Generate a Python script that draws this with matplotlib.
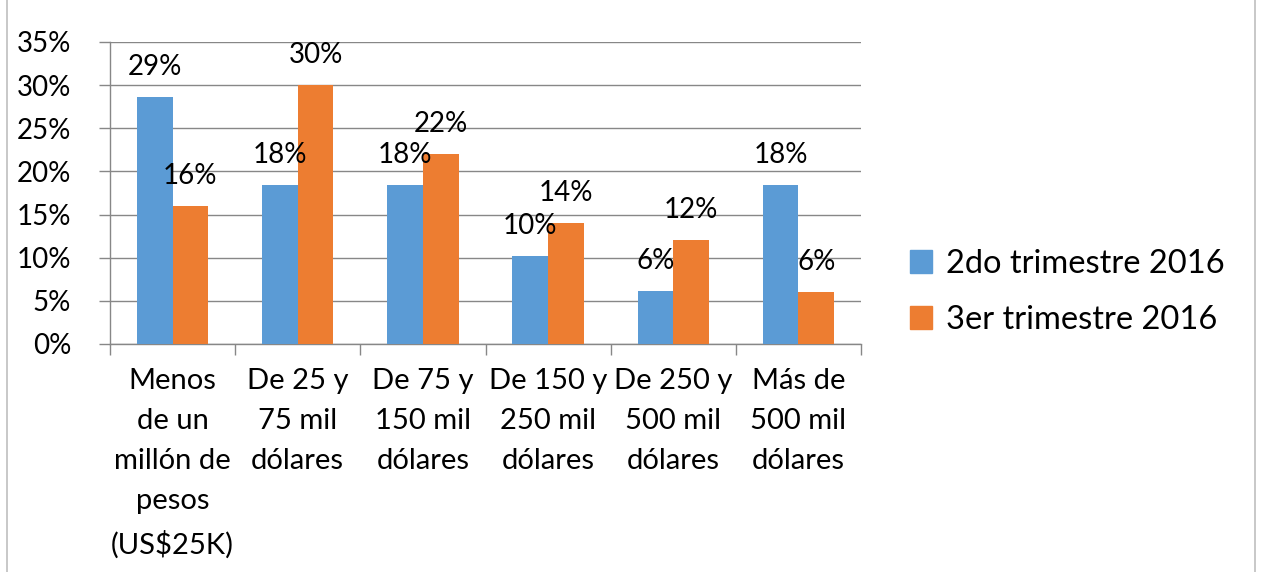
import matplotlib
matplotlib.use("Agg")
import matplotlib.pyplot as plt
import numpy as np
from matplotlib.patches import Rectangle
from matplotlib.lines import Line2D

categories = ["Menos\nde un\nmillón de\npesos\n(US$25K)", "De 25 y\n75 mil\ndólares",
              "De 75 y\n150 mil\ndólares", "De 150 y\n250 mil\ndólares",
              "De 250 y\n500 mil\ndólares", "Más de\n500 mil\ndólares"]
series_names = ["2do trimestre 2016", "3er trimestre 2016"]
q2 = [28.6, 18.4, 18.4, 10.2, 6.1, 18.4]
q3 = [16.0, 30.0, 22.0, 14.0, 12.0, 6.0]
q2_labels = ["29%", "18%", "18%", "10%", "6%", "18%"]
q3_labels = ["16%", "30%", "22%", "14%", "12%", "6%"]
yticks = [0, 5, 10, 15, 20, 25, 30, 35]

plt.rcParams['font.family'] = ['Lato', 'DejaVu Sans']
blue = "#5B9BD5"
orange = "#ED7D31"
grid = "#878787"

fig = plt.figure(figsize=(12.62, 5.72), dpi=100)
ax = fig.add_axes([110/1262, 1-344/572, 751/1262, 302/572])

x = np.arange(len(categories))
w = 0.285
b1 = ax.bar(x - w/2, q2, w, color=blue, zorder=3)
b2 = ax.bar(x + w/2, q3, w, color=orange, zorder=3)

for rects, labs in ((b1, q2_labels), (b2, q3_labels)):
    for r, lab in zip(rects, labs):
        ax.annotate(lab, (r.get_x() + r.get_width()/2, r.get_height()),
                    xytext=(0, 16), textcoords="offset points",
                    ha="center", va="baseline", fontsize=20, color="#000000", zorder=5)

ax.set_xlim(-0.5, len(categories) - 0.5)
ax.set_ylim(0, 35)
ax.set_yticks(yticks)
ax.set_yticklabels([f"{v}%" for v in yticks], fontsize=20)
ax.yaxis.grid(True, color=grid, linewidth=1.0, zorder=0)
ax.set_axisbelow(True)

ax.set_xticks(np.arange(-0.5, len(categories), 1.0))
ax.set_xticklabels([])
ax.set_xticks(x, minor=True)
ax.set_xticklabels(categories, minor=True, fontsize=21, linespacing=1.68)
ax.tick_params(axis='x', which='major', length=8, color=grid, width=1)
ax.tick_params(axis='x', which='minor', length=0, pad=17)
ax.tick_params(axis='y', length=8, color=grid, width=1, pad=20)

for s in ("top", "right"):
    ax.spines[s].set_visible(False)
for s in ("left", "bottom"):
    ax.spines[s].set_color(grid)
    ax.spines[s].set_linewidth(1.0)

handles = [Rectangle((0, 0), 1, 1, color=blue), Rectangle((0, 0), 1, 1, color=orange)]
fig.legend(handles, series_names, loc="center left", bbox_to_anchor=(884/1262, 1-292/572),
           frameon=False, fontsize=23.5, handlelength=0.68, handleheight=0.68,
           handletextpad=0.42, labelspacing=0.8, borderpad=0.3)

# chart border lines
fig.add_artist(Line2D([7/1262, 7/1262], [0, 1], color="#BFBFBF", linewidth=1.2, transform=fig.transFigure))
fig.add_artist(Line2D([1255/1262, 1255/1262], [0, 1], color="#BFBFBF", linewidth=1.2, transform=fig.transFigure))

fig.savefig("out.png", dpi=100, facecolor="white")
